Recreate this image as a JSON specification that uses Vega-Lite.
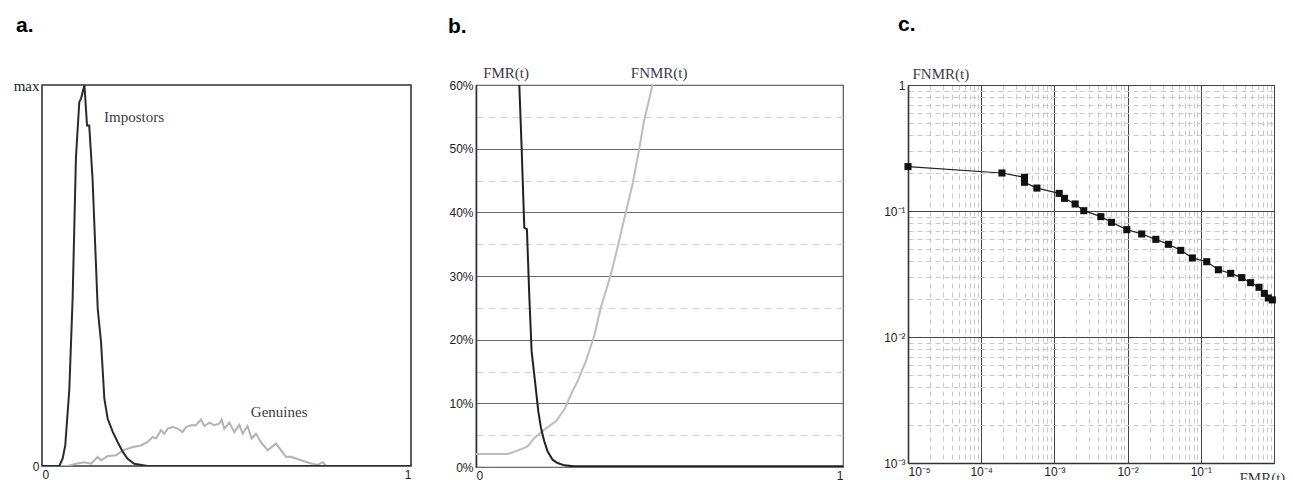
{
  "$schema": "https://vega.github.io/schema/vega-lite/v6.json",
  "background": "white",
  "padding": {"left": 12, "top": 13, "right": 0, "bottom": 0},
  "bounds": "flush",
  "spacing": 65,
  "config": {
    "font": "Liberation Sans",
    "axis": {"labelFont": "Liberation Sans", "labelFontSize": 12, "labelColor": "#222", "ticks": false, "domain": false, "grid": false, "labelPadding": 3, "labelOverlap": false},
    "title": {"font": "Liberation Sans", "fontSize": 21, "fontWeight": "bold", "color": "#000", "anchor": "start", "frame": "group", "baseline": "alphabetic"}
  },
  "hconcat": [
    {
      "width": 369,
      "height": 381,
      "title": {"text": "a.", "dx": -26, "offset": 42},
      "view": {"stroke": "#333", "strokeWidth": 1.6},
      "encoding": {
        "x": {"field": "x", "type": "quantitative", "scale": {"domain": [0, 1], "nice": false}, "axis": {"title": null, "values": [0, 1], "format": "d"}},
        "y": {"field": "y", "type": "quantitative", "scale": {"domain": [0, 1], "nice": false}, "axis": {"title": null, "values": [0, 1], "labelExpr": "datum.value == 1 ? 'max' : '0'", "labelFont": {"condition": {"test": "datum.value == 1", "value": "Liberation Serif"}, "value": "Liberation Sans"}, "labelFontSize": {"condition": {"test": "datum.value == 1", "value": 15}, "value": 12}}}
      },
      "layer": [
        {
          "data": {"values": [
            {"x": 0, "y": 0}, {"x": 0.0696, "y": 0}, {"x": 0.092, "y": 0.006}, {"x": 0.115, "y": 0.010}, {"x": 0.133, "y": 0.006},
            {"x": 0.151, "y": 0.024}, {"x": 0.160, "y": 0.015}, {"x": 0.178, "y": 0.026}, {"x": 0.2005, "y": 0.028}, {"x": 0.219, "y": 0.041},
            {"x": 0.246, "y": 0.050}, {"x": 0.268, "y": 0.054}, {"x": 0.286, "y": 0.063}, {"x": 0.300, "y": 0.076}, {"x": 0.309, "y": 0.072},
            {"x": 0.3225, "y": 0.094}, {"x": 0.3315, "y": 0.085}, {"x": 0.3406, "y": 0.098}, {"x": 0.354, "y": 0.102}, {"x": 0.3677, "y": 0.098},
            {"x": 0.381, "y": 0.089}, {"x": 0.390, "y": 0.102}, {"x": 0.404, "y": 0.107}, {"x": 0.417, "y": 0.107}, {"x": 0.431, "y": 0.122},
            {"x": 0.440, "y": 0.105}, {"x": 0.4535, "y": 0.114}, {"x": 0.467, "y": 0.107}, {"x": 0.4806, "y": 0.111}, {"x": 0.487, "y": 0.122},
            {"x": 0.494, "y": 0.098}, {"x": 0.5077, "y": 0.114}, {"x": 0.521, "y": 0.089}, {"x": 0.535, "y": 0.108}, {"x": 0.544, "y": 0.085},
            {"x": 0.557, "y": 0.105}, {"x": 0.568, "y": 0.072}, {"x": 0.580, "y": 0.085}, {"x": 0.593, "y": 0.063}, {"x": 0.6116, "y": 0.041},
            {"x": 0.634, "y": 0.059}, {"x": 0.648, "y": 0.041}, {"x": 0.661, "y": 0.024}, {"x": 0.675, "y": 0.024}, {"x": 0.702, "y": 0.015},
            {"x": 0.7245, "y": 0.008}, {"x": 0.747, "y": 0.003}, {"x": 0.761, "y": 0.010}, {"x": 0.770, "y": 0}, {"x": 1, "y": 0}
          ]},
          "mark": {"type": "line", "color": "#b3b3b3", "strokeWidth": 2, "clip": true}
        },
        {
          "data": {"values": [
            {"x": 0, "y": 0}, {"x": 0.047, "y": 0}, {"x": 0.056, "y": 0.02}, {"x": 0.063, "y": 0.054}, {"x": 0.074, "y": 0.20},
            {"x": 0.083, "y": 0.44}, {"x": 0.092, "y": 0.81}, {"x": 0.101, "y": 0.955}, {"x": 0.106, "y": 0.965}, {"x": 0.115, "y": 1.0},
            {"x": 0.122, "y": 0.894}, {"x": 0.128, "y": 0.894}, {"x": 0.137, "y": 0.754}, {"x": 0.151, "y": 0.413}, {"x": 0.160, "y": 0.325},
            {"x": 0.169, "y": 0.177}, {"x": 0.178, "y": 0.124}, {"x": 0.192, "y": 0.089}, {"x": 0.205, "y": 0.063}, {"x": 0.219, "y": 0.037},
            {"x": 0.232, "y": 0.019}, {"x": 0.25, "y": 0.006}, {"x": 0.286, "y": 0}, {"x": 1, "y": 0}
          ]},
          "mark": {"type": "line", "color": "#2b2b2b", "strokeWidth": 2, "clip": true}
        },
        {
          "data": {"values": [
            {"x": 0.168, "y": 0.916, "label": "Impostors"},
            {"x": 0.566, "y": 0.142, "label": "Genuines"}
          ]},
          "mark": {"type": "text", "align": "left", "baseline": "middle", "font": "Liberation Serif", "fontSize": 15, "color": "#3a3a48"},
          "encoding": {"text": {"field": "label"}}
        }
      ]
    },
    {
      "width": 367,
      "height": 382,
      "title": {"text": "b.", "dx": -28, "offset": 29},
      "view": {"stroke": "#555", "strokeWidth": 1.2},
      "encoding": {
        "x": {"field": "x", "type": "quantitative", "scale": {"domain": [0, 1], "nice": false}, "axis": {"title": null, "values": [0, 1], "format": "d"}},
        "y": {"field": "y", "type": "quantitative", "scale": {"domain": [0, 0.6], "nice": false}, "axis": {
          "title": null,
          "values": [0, 0.05, 0.1, 0.15, 0.2, 0.25, 0.3, 0.35, 0.4, 0.45, 0.5, 0.55, 0.6],
          "labelExpr": "round(datum.value * 100) % 10 == 0 ? format(datum.value, '.0%') : ''",
          "grid": true,
          "gridColor": {"condition": {"test": "round(datum.value * 100) % 10 == 0", "value": "#6e6e6e"}, "value": "#cfcfcf"},
          "gridDash": {"condition": {"test": "round(datum.value * 100) % 10 == 0", "value": []}, "value": [7, 5]},
          "gridWidth": 1,
          "domain": true, "domainColor": "#333", "domainWidth": 1.6
        }}
      },
      "layer": [
        {
          "data": {"values": [
            {"x": 0, "y": 0.0205}, {"x": 0.0862, "y": 0.0205}, {"x": 0.1134, "y": 0.0257}, {"x": 0.1407, "y": 0.0325}, {"x": 0.1588, "y": 0.0456},
            {"x": 0.186, "y": 0.0587}, {"x": 0.2178, "y": 0.0719}, {"x": 0.2405, "y": 0.0902}, {"x": 0.2586, "y": 0.1138}, {"x": 0.2768, "y": 0.1348},
            {"x": 0.2995, "y": 0.1663}, {"x": 0.322, "y": 0.2056}, {"x": 0.340, "y": 0.2502}, {"x": 0.3675, "y": 0.3026}, {"x": 0.3857, "y": 0.3446},
            {"x": 0.408, "y": 0.3997}, {"x": 0.4265, "y": 0.4442}, {"x": 0.4446, "y": 0.4993}, {"x": 0.458, "y": 0.5439}, {"x": 0.481, "y": 0.6}
          ]},
          "mark": {"type": "line", "color": "#bdbdbd", "strokeWidth": 2, "clip": true}
        },
        {
          "data": {"values": [
            {"x": 0.118, "y": 0.6}, {"x": 0.1243, "y": 0.5019}, {"x": 0.1316, "y": 0.376}, {"x": 0.1388, "y": 0.3734}, {"x": 0.1452, "y": 0.2685},
            {"x": 0.1515, "y": 0.182}, {"x": 0.1633, "y": 0.1217}, {"x": 0.1697, "y": 0.0876}, {"x": 0.177, "y": 0.0614}, {"x": 0.186, "y": 0.0404},
            {"x": 0.195, "y": 0.0247}, {"x": 0.2087, "y": 0.0115}, {"x": 0.2223, "y": 0.0063}, {"x": 0.2405, "y": 0.0026}, {"x": 0.2677, "y": 0.001},
            {"x": 1, "y": 0.001}
          ]},
          "mark": {"type": "line", "color": "#222", "strokeWidth": 2, "clip": true}
        },
        {
          "data": {"values": [
            {"x": 0.082, "y": 0.6, "label": "FMR(t)"},
            {"x": 0.499, "y": 0.6, "label": "FNMR(t)"}
          ]},
          "mark": {"type": "text", "align": "center", "baseline": "bottom", "dy": -4, "font": "Liberation Serif", "fontSize": 15, "color": "#3a3a48"},
          "encoding": {"text": {"field": "label"}}
        }
      ]
    },
    {
      "width": 366,
      "height": 378,
      "title": {"text": "c.", "dx": -10, "offset": 31},
      "view": {"stroke": "#777", "strokeWidth": 1},
      "encoding": {
        "x": {"field": "fmr", "type": "quantitative", "scale": {"type": "log", "domain": [0.00001, 1], "nice": false}, "axis": {
          "title": "FMR(t)", "titleFont": "Liberation Serif", "titleFontSize": 15, "titleFontWeight": "normal", "titleColor": "#3a3a48",
          "titleAnchor": "start", "titleAlign": "left", "titleBaseline": "alphabetic", "titleX": 331, "titleY": 19,
          "labelFont": "Liberation Sans", "labelFontSize": 12,
          "values": [0.00001,0.00002,0.00003,0.00004,0.00005,0.00006,0.00007,0.00008,0.00009,0.0001,0.0002,0.0003,0.0004,0.0005,0.0006,0.0007,0.0008,0.0009,0.001,0.002,0.003,0.004,0.005,0.006,0.007,0.008,0.009,0.01,0.02,0.03,0.04,0.05,0.06,0.07,0.08,0.09,0.1,0.2,0.3,0.4,0.5,0.6,0.7,0.8,0.9,1],
          "labelExpr": "abs(log(datum.value)/LN10 - round(log(datum.value)/LN10)) < 0.001 && datum.value < 0.5 ? ['10⁻⁵','10⁻⁴','10⁻³','10⁻²','10⁻¹'][round(log(datum.value)/LN10) + 5] : ''",
          "grid": true,
          "gridColor": {"condition": {"test": "abs(log(datum.value)/LN10 - round(log(datum.value)/LN10)) < 0.001", "value": "#444"}, "value": "#c8c8c8"},
          "gridDash": {"condition": {"test": "abs(log(datum.value)/LN10 - round(log(datum.value)/LN10)) < 0.001", "value": []}, "value": [5, 4]},
          "gridWidth": 1,
          "domain": true, "domainColor": "#333", "domainWidth": 1.6
        }},
        "y": {"field": "fnmr", "type": "quantitative", "scale": {"type": "log", "domain": [0.001, 1], "nice": false}, "axis": {
          "title": "FNMR(t)", "titleFont": "Liberation Serif", "titleFontSize": 15, "titleFontWeight": "normal", "titleColor": "#3a3a48",
          "titleAngle": 0, "titleAlign": "left", "titleBaseline": "alphabetic", "titleX": 4, "titleY": -7,
          "labelFont": "Liberation Sans", "labelFontSize": 12,
          "values": [0.001,0.002,0.003,0.004,0.005,0.006,0.007,0.008,0.009,0.01,0.02,0.03,0.04,0.05,0.06,0.07,0.08,0.09,0.1,0.2,0.3,0.4,0.5,0.6,0.7,0.8,0.9,1],
          "labelExpr": "abs(log(datum.value)/LN10 - round(log(datum.value)/LN10)) < 0.001 ? ['10⁻³','10⁻²','10⁻¹','1'][round(log(datum.value)/LN10) + 3] : ''",
          "grid": true,
          "gridColor": {"condition": {"test": "abs(log(datum.value)/LN10 - round(log(datum.value)/LN10)) < 0.001", "value": "#444"}, "value": "#c8c8c8"},
          "gridDash": {"condition": {"test": "abs(log(datum.value)/LN10 - round(log(datum.value)/LN10)) < 0.001", "value": []}, "value": [5, 4]},
          "gridWidth": 1,
          "domain": true, "domainColor": "#333", "domainWidth": 1.6
        }}
      },
      "data": {"values": [
        {"fmr": 0.00001, "fnmr": 0.225}, {"fmr": 0.000192, "fnmr": 0.2003}, {"fmr": 0.00039, "fnmr": 0.185}, {"fmr": 0.00039, "fnmr": 0.169},
        {"fmr": 0.000577, "fnmr": 0.152}, {"fmr": 0.001163, "fnmr": 0.138}, {"fmr": 0.001374, "fnmr": 0.126}, {"fmr": 0.00192, "fnmr": 0.1137},
        {"fmr": 0.00252, "fnmr": 0.1006}, {"fmr": 0.00431, "fnmr": 0.0902}, {"fmr": 0.00603, "fnmr": 0.0813}, {"fmr": 0.00975, "fnmr": 0.0711},
        {"fmr": 0.0156, "fnmr": 0.0657}, {"fmr": 0.0243, "fnmr": 0.0596}, {"fmr": 0.0361, "fnmr": 0.0544}, {"fmr": 0.0532, "fnmr": 0.0487},
        {"fmr": 0.0767, "fnmr": 0.0424}, {"fmr": 0.1205, "fnmr": 0.0396}, {"fmr": 0.1738, "fnmr": 0.0342}, {"fmr": 0.256, "fnmr": 0.032},
        {"fmr": 0.362, "fnmr": 0.0296}, {"fmr": 0.48, "fnmr": 0.027}, {"fmr": 0.624, "fnmr": 0.0248}, {"fmr": 0.738, "fnmr": 0.0222},
        {"fmr": 0.837, "fnmr": 0.0204}, {"fmr": 0.949, "fnmr": 0.0197}
      ]},
      "layer": [
        {"mark": {"type": "line", "color": "#222", "strokeWidth": 1.2}},
        {"mark": {"type": "point", "shape": "square", "filled": true, "size": 50, "color": "#111", "opacity": 1}}
      ]
    }
  ]
}
